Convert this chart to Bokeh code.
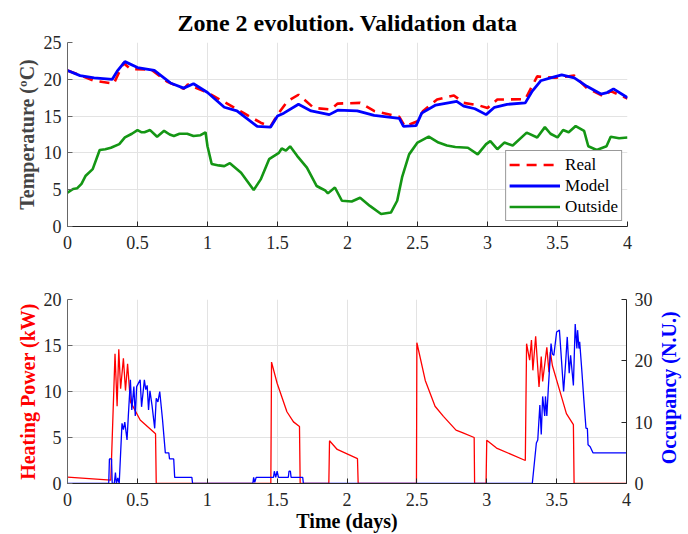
import math
from bokeh.plotting import figure
from bokeh.layouts import column, row
from bokeh.models import (Range1d, LinearAxis, FixedTicker, NumeralTickFormatter,
                          Legend, LegendItem)
from bokeh.core.properties import value
from bokeh.embed import file_html
from bokeh.resources import INLINE

# ---------------- data ----------------
real_t = [0, 0.19, 0.33, 0.40, 0.45, 0.60, 0.71, 0.83, 0.86, 1.0, 1.26, 1.38, 1.45, 1.50,
          1.57, 1.65, 1.76, 1.88, 1.93, 2.09, 2.19, 2.37, 2.41, 2.50, 2.54, 2.64, 2.76, 2.83,
          2.93, 3.0, 3.07, 3.27, 3.355, 3.48, 3.62, 3.71, 3.83, 3.88, 4.0]
real_v = [21.2, 19.8, 19.4, 22.2, 21.4, 21.3, 19.7, 18.7, 19.3, 18.2, 15.4, 14.1, 13.6, 15.2,
          17.0, 17.9, 16.1, 15.9, 16.7, 16.8, 15.7, 14.9, 13.6, 14.3, 15.7, 17.25, 17.8, 16.8,
          16.5, 16.1, 17.25, 17.3, 20.4, 20.2, 20.5, 18.8, 17.7, 18.4, 17.4]

model_t = [0, 0.09, 0.19, 0.32, 0.355, 0.41, 0.50, 0.62, 0.735, 0.83, 0.90, 1.0, 1.12, 1.21,
           1.355, 1.45, 1.50, 1.545, 1.65, 1.74, 1.87, 1.93, 2.07, 2.19, 2.37, 2.40, 2.49, 2.53,
           2.63, 2.78, 2.83, 2.91, 2.99, 3.05, 3.14, 3.27, 3.32, 3.38, 3.45, 3.53, 3.62, 3.71,
           3.81, 3.855, 3.90, 4.0]
model_v = [21.2, 20.5, 20.2, 20.0, 21.1, 22.4, 21.6, 21.2, 19.5, 18.8, 19.4, 18.2, 16.2, 15.7,
           13.6, 13.5, 15.0, 15.4, 16.6, 15.7, 15.2, 15.8, 15.7, 15.1, 14.7, 13.6, 13.7, 15.4,
           16.5, 17.0, 16.35, 16.0, 15.2, 16.2, 16.6, 16.8, 18.4, 19.8, 20.2, 20.6, 20.2, 19.05,
           18.0, 18.2, 18.7, 17.5]

out_t = [0, 0.04, 0.07, 0.10, 0.13, 0.18, 0.23, 0.27, 0.31, 0.37, 0.41, 0.46, 0.50, 0.53, 0.55,
         0.59, 0.64, 0.69, 0.73, 0.76, 0.80, 0.855, 0.90, 0.95, 0.986, 1.0, 1.03, 1.08, 1.12, 1.16,
         1.24, 1.33, 1.38, 1.44, 1.51, 1.53, 1.56, 1.59, 1.64, 1.71, 1.78, 1.81, 1.84, 1.86, 1.91,
         1.96, 2.03, 2.09, 2.16, 2.24, 2.31, 2.355, 2.39, 2.44, 2.50, 2.58, 2.65, 2.71, 2.77, 2.86,
         2.93, 2.99, 3.02, 3.07, 3.12, 3.18, 3.28, 3.355, 3.41, 3.45, 3.50, 3.54, 3.58, 3.63, 3.69,
         3.72, 3.78, 3.85, 3.88, 3.94, 4.0]
out_v = [4.6, 5.1, 5.2, 5.8, 6.9, 7.8, 10.4, 10.5, 10.7, 11.2, 12.1, 12.6, 13.1, 12.8, 12.8,
         13.1, 12.2, 13.0, 12.5, 12.3, 12.6, 12.6, 12.3, 12.4, 12.8, 10.9, 8.5, 8.3, 8.2, 8.6,
         7.3, 4.95, 6.4, 9.15, 10.0, 10.6, 10.3, 10.9, 9.6, 8.0, 5.5, 5.2, 4.9, 4.5, 5.3,
         3.5, 3.4, 3.9, 2.8, 1.7, 1.9, 3.5, 6.7, 9.8, 11.4, 12.2, 11.4, 11.0, 10.8, 10.7,
         9.8, 11.2, 11.6, 10.5, 11.4, 11.0, 12.75, 12.1, 13.5, 12.6, 12.1, 13.1, 12.8, 13.65, 13.0,
         10.9, 10.4, 10.9, 12.2, 12.0, 12.1]

heat_t = [0, 0.31, 0.34, 0.355, 0.367, 0.38, 0.40, 0.415, 0.43, 0.45, 0.52, 0.63, 0.635,
          1.455, 1.46, 1.50, 1.57, 1.617, 1.66, 1.665, 1.87, 1.875, 1.93, 2.075, 2.08,
          2.497, 2.50, 2.56, 2.63, 2.69, 2.78, 2.83, 2.91, 2.913, 2.995, 3.0, 3.07, 3.276,
          3.285, 3.307, 3.32, 3.33, 3.35, 3.374, 3.39, 3.40, 3.43, 3.445, 3.455, 3.47,
          3.52, 3.57, 3.62, 3.625, 4.0]
heat_v = [0.7, 0.36, 14.1, 8.4, 14.6, 10.3, 13.6, 10.1, 13.0, 8.9, 6.9, 5.4, 0,
          0, 13.2, 10.9, 7.8, 6.7, 6.2, 0, 0, 4.65, 3.7, 2.7, 0,
          0, 15.3, 11.2, 8.4, 7.3, 5.8, 5.5, 5.0, 0, 0, 4.7, 3.85, 2.5,
          15.2, 13.4, 15.6, 12.3, 16.0, 10.5, 13.8, 11.1, 14.8, 12.1, 14.3, 12.8,
          10.2, 7.6, 6.4, 0, 0]

occ_t = [0, 0.295, 0.30, 0.315, 0.32, 0.335, 0.343, 0.35, 0.36, 0.37, 0.39, 0.40, 0.41, 0.426,
         0.435, 0.45, 0.46, 0.475, 0.485, 0.495, 0.52, 0.53, 0.55, 0.56, 0.57, 0.58, 0.59,
         0.605, 0.624, 0.635, 0.647, 0.66, 0.68, 0.70, 0.725, 0.73, 0.76, 0.767, 0.89, 0.895,
         1.326, 1.332, 1.34, 1.35, 1.474, 1.48, 1.49, 1.50, 1.51, 1.58, 1.585, 1.595, 1.60,
         1.683, 1.688, 3.326, 3.355, 3.365, 3.38, 3.39, 3.40, 3.415, 3.42, 3.43, 3.44, 3.46,
         3.47, 3.48, 3.50, 3.52, 3.53, 3.55, 3.565, 3.576, 3.59, 3.60, 3.62, 3.633, 3.645,
         3.65, 3.66, 3.665, 3.68, 3.695, 3.71, 3.72, 3.725, 3.74, 3.76, 4.0]
occ_v = [0, 0, 4.0, 4.0, 0, 0, 1.8, 0, 0.9, 0, 9.8, 8.8, 10.0, 7.1,
         10.9, 16.9, 12.0, 15.8, 11.0, 15.8, 16.9, 12.5, 16.9, 15.3, 16.0, 12.0, 15.1,
         12.7, 9.0, 13.9, 13.3, 15.0, 10.4, 5.0, 5.0, 4.0, 4.0, 1.0, 1.0, 0,
         0, 1.0, 0.2, 1.0, 1.0, 2.0, 1.0, 2.0, 1.0, 1.0, 2.0, 2.0, 1.0,
         1.0, 0, 0, 6.6, 7.1, 12.8, 8.0, 14.2, 11.0, 14.2, 11.0, 15.3, 22.8,
         21.1, 20.9, 24.7, 25.0, 21.7, 15.0, 19.9, 23.9, 18.0, 20.9, 16.0, 26.0, 22.0,
         25.0, 22.0, 23.1, 18.5, 13.6, 9.0, 9.0, 6.3, 6.0, 5.0, 5.0]

x_ticks = [0, 0.5, 1, 1.5, 2, 2.5, 3, 3.5, 4]
temp_ticks = [0, 5, 10, 15, 20, 25]
heat_ticks = [0, 5, 10, 15, 20]
occ_ticks = [0, 10, 20, 30]
occ_title = ["Occupancy (N.U.)"]

FONT = "Liberation Serif"
RED, BLUE, GREEN = "#ff0000", "#0000ff", "#149614"
GRID = "#e3e3e3"
DARK = "#262626"


def style_axis(ax, line_color):
    ax.axis_line_color = line_color
    ax.major_tick_line_color = line_color
    ax.major_tick_in = 5
    ax.major_tick_out = 0
    ax.minor_tick_line_color = None
    ax.major_label_text_font = FONT
    ax.major_label_text_font_size = "18px"
    ax.major_label_text_color = DARK
    ax.axis_label_text_font = FONT
    ax.axis_label_text_font_size = "20px"
    ax.axis_label_text_font_style = "bold"


# ---------------- top figure ----------------
p1 = figure(width=688, height=260, x_range=Range1d(0, 4), y_range=Range1d(0, 25),
            output_backend="svg", toolbar_location=None,
            min_border_left=67, min_border_right=61, min_border_top=41, min_border_bottom=34,
            title="Zone 2 evolution. Validation data")
p1.title.text_font = FONT
p1.title.text_font_size = "24px"
p1.title.text_font_style = "bold"
p1.title.align = "center"
p1.title.text_color = "#000000"
p1.title.standoff = 14
p1.outline_line_color = None

p1.xaxis.ticker = FixedTicker(ticks=x_ticks)
p1.xaxis.formatter = NumeralTickFormatter(format="0.[0]")
p1.yaxis.ticker = FixedTicker(ticks=temp_ticks)
p1.yaxis.axis_label = "Temperature (ºC)"
style_axis(p1.xaxis[0], DARK)
style_axis(p1.yaxis[0], "#666666")
p1.xaxis.major_label_standoff = 9
p1.yaxis.major_label_standoff = 6
p1.yaxis.axis_label_standoff = 3
p1.xgrid.grid_line_color = GRID
p1.ygrid.grid_line_color = GRID
p1.xgrid.ticker = FixedTicker(ticks=x_ticks)
p1.ygrid.ticker = FixedTicker(ticks=temp_ticks)

r_real = p1.line(real_t, real_v, line_color=RED, line_width=2.6, line_dash="10 7")
r_model = p1.line(model_t, model_v, line_color=BLUE, line_width=2.8)
r_out = p1.line(out_t, out_v, line_color=GREEN, line_width=2.6)

legend = Legend(items=[LegendItem(label="Real", renderers=[r_real]),
                       LegendItem(label="Model", renderers=[r_model]),
                       LegendItem(label="Outside", renderers=[r_out])],
                location="bottom_right")
legend.label_text_font = FONT
legend.label_text_font_size = "17px"
legend.label_text_color = "#000000"
legend.glyph_width = 51
legend.glyph_height = 21
legend.label_height = 21
legend.label_standoff = 5
legend.spacing = 0
legend.padding = 3
legend.margin = 5
legend.border_line_color = "#333333"
legend.border_line_width = 1.5
legend.background_fill_alpha = 1.0
p1.add_layout(legend)

# ---------------- bottom figure ----------------
p2 = figure(width=655, height=274, x_range=Range1d(0, 4), y_range=Range1d(0, 20),
            output_backend="svg", toolbar_location=None,
            min_border_left=67, min_border_right=28, min_border_top=39, min_border_bottom=50)
p2.outline_line_color = None
p2.extra_y_ranges = {"occ": Range1d(0, 30)}

p2.xaxis.ticker = FixedTicker(ticks=x_ticks)
p2.xaxis.formatter = NumeralTickFormatter(format="0.[0]")
p2.xaxis.axis_label = "Time (days)"
p2.yaxis.ticker = FixedTicker(ticks=heat_ticks)
p2.yaxis.axis_label = "Heating Power (kW)"
style_axis(p2.xaxis[0], DARK)
style_axis(p2.yaxis[0], "#666666")
p2.xaxis.major_label_standoff = 9
p2.xaxis.axis_label_standoff = 1
p2.yaxis.major_label_standoff = 6
p2.yaxis.axis_label_standoff = 2
p2.yaxis.axis_label_text_color = RED
p2.xaxis.axis_label_text_color = "#000000"
p2.xgrid.grid_line_color = GRID
p2.ygrid.grid_line_color = GRID
p2.xgrid.ticker = FixedTicker(ticks=x_ticks)
p2.ygrid.ticker = FixedTicker(ticks=heat_ticks)

occ_axis = LinearAxis(y_range_name="occ", ticker=FixedTicker(ticks=occ_ticks))
style_axis(occ_axis, DARK)
occ_axis.major_label_standoff = 8
p2.add_layout(occ_axis, "right")

p2.line(heat_t, heat_v, line_color=RED, line_width=1.3)
p2.line(occ_t, occ_v, line_color=BLUE, line_width=1.3, y_range_name="occ")

# narrow strip holding the right-axis title (reads bottom-to-top like the reference)
ps = figure(width=33, height=274, x_range=Range1d(0, 1), y_range=Range1d(0, 1),
            output_backend="svg", toolbar_location=None,
            min_border_left=0, min_border_right=0, min_border_top=0, min_border_bottom=0)
ps.axis.visible = False
ps.grid.visible = False
ps.outline_line_color = None
ps.text(x=[0.394], y=[0.52], text=occ_title, angle=math.pi / 2,
        text_align="center", text_baseline="middle", text_font=value(FONT),
        text_font_size="20px", text_font_style="bold", text_color=BLUE)

layout = column(p1, row(p2, ps, spacing=0), spacing=0)
open("out.html", "w").write(file_html(layout, INLINE))
